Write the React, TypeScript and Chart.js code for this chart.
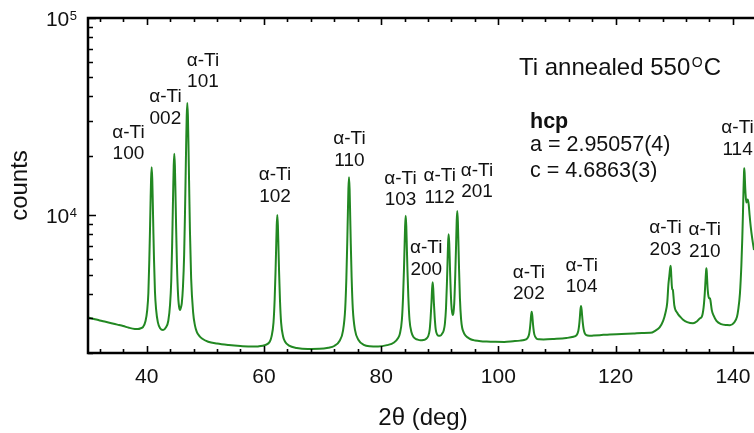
import { useEffect, useRef } from 'react';
import { Chart, registerables } from 'chart.js';

Chart.register(...registerables);

// Diffraction scan: 2θ (deg) and intensity (counts)
const twoTheta = [
  30, 31, 32, 33, 34, 35, 36, 37, 38, 38.5, 39.0, 39.4, 39.8, 40.1, 40.3, 40.46, 40.56, 40.66, 40.76, 40.86,
  40.96, 41.06, 41.16, 41.26, 41.42, 41.62, 41.92, 42.3, 42.8, 43.3, 43.7, 44.0, 44.2, 44.34, 44.42, 44.52,
  44.62, 44.72, 44.82, 44.92, 45.02, 45.17, 45.37, 45.6, 45.72, 45.85, 46.0, 46.2, 46.4, 46.54, 46.64, 46.74,
  46.84, 46.94, 47.04, 47.14, 47.24, 47.39, 47.59, 47.94, 48.24, 48.54, 48.94, 49.44, 50.5, 52, 54, 56, 58, 59,
  60.3, 61.0, 61.3, 61.64, 61.84, 61.99, 62.09, 62.19, 62.29, 62.39, 62.49, 62.59, 62.74, 62.94, 63.29, 63.59,
  64.3, 65.6, 67.5, 69.5, 71.0, 72.0, 72.9, 73.5, 73.87, 74.07, 74.22, 74.32, 74.42, 74.52, 74.62, 74.72, 74.82,
  74.97, 75.17, 75.54, 76.14, 77.04, 78.04, 79.5, 81.0, 82.2, 82.9, 83.19, 83.54, 83.74, 83.89, 83.99, 84.09,
  84.19, 84.29, 84.39, 84.49, 84.64, 84.84, 85.19, 85.49, 85.79, 86.2, 86.7, 87.2, 87.64, 88.04, 88.27, 88.44,
  88.59, 88.69, 88.79, 88.89, 88.99, 89.14, 89.31, 89.54, 89.8, 90.1, 90.37, 90.67, 90.87, 91.07, 91.22, 91.32,
  91.42, 91.52, 91.62, 91.72, 91.82, 91.97, 92.17, 92.32, 92.47, 92.64, 92.79, 92.89, 92.99, 93.09, 93.19,
  93.29, 93.44, 93.64, 93.84, 93.99, 94.29, 94.59, 94.99, 95.49, 95.99, 96.99, 97.99, 99.5, 101.0, 102.5,
  103.7, 104.4, 104.88, 105.23, 105.38, 105.48, 105.58, 105.68, 105.78, 105.88, 105.98, 106.13, 106.48,
  106.98, 107.7, 109.5, 111.6, 112.8, 113.29, 113.64, 113.79, 113.89, 113.99, 114.09, 114.19, 114.29, 114.39,
  114.54, 114.74, 115.0, 115.5, 116.2, 117.3, 119.0, 121.0, 123.0, 124.5, 125.9, 126.8, 127.5, 128.1, 128.5,
  128.8, 129.0, 129.15, 129.3, 129.39, 129.48, 129.58, 129.68, 129.76, 129.86, 130.0, 130.5, 131.0, 131.5,
  132.2, 133.2, 133.9, 134.4, 134.7, 135.0, 135.2, 135.35, 135.45, 135.5, 135.58, 135.7, 135.85, 135.97,
  136.1, 136.2, 136.4, 136.7, 137.2, 138.0, 139.0, 139.5, 140.2, 140.7, 140.9, 141.2, 141.45, 141.6, 141.72,
  141.82, 141.9, 141.94, 142.0, 142.1, 142.2, 142.3, 142.45, 142.55, 142.7, 142.85, 143.05, 143.3, 143.6,
];

const counts = [
  3030, 2978, 2925, 2878, 2830, 2785, 2740, 2685, 2648, 2645, 2670, 2715, 2895, 3303, 4043, 5950, 8050, 11300, 15300, 17500,
  15300, 11300, 8050, 5950, 4100, 3320, 2860, 2670, 2617, 2701, 2914, 3533, 4651, 6812, 8973, 12931,
  17793, 20500, 17826, 12983, 9036, 5658, 3910, 3349, 3308, 3405, 3582, 4337, 6300, 10096, 14942, 22564,
  31921, 37100, 31907, 22531, 14890, 8289, 4809, 3193, 2763, 2568, 2451, 2369, 2280, 2232, 2195, 2170, 2155, 2160,
  2200, 2280, 2420, 2850, 3750, 5200, 6800, 8850, 10020, 8850, 6800, 5200, 3750, 2850, 2420, 2290,
  2180, 2121, 2095, 2099, 2127, 2170, 2300, 2600, 3350, 4800, 7250, 10000, 13600, 15570, 13600, 10000, 7250,
  4800, 3350, 2620, 2330, 2200, 2165, 2160, 2192, 2260, 2380, 2500, 2950, 3850, 5250, 6800, 8800,
  9940, 8800, 6800, 5250, 3850, 2950, 2540, 2420, 2370, 2338, 2318, 2326, 2356, 2440, 2610, 3010,
  3619, 4232, 4566, 4236, 3626, 3024, 2634, 2485, 2445, 2450, 2497, 2598, 2806, 3390, 4487, 5698,
  7251, 8002, 7185, 5697, 4552, 3545, 3117, 3181, 3571, 4962, 7154, 9362, 10500, 9267, 7058,
  5340, 3784, 2961, 2670, 2584, 2473, 2418, 2374, 2334, 2316, 2297, 2288, 2280, 2276, 2294,
  2311, 2329, 2363, 2483, 2659, 2854, 3103, 3242, 3103, 2855, 2661, 2486, 2372,
  2348, 2344, 2357, 2383, 2418, 2456, 2594, 2795, 3017, 3302, 3464, 3330, 3080, 2860,
  2641, 2513, 2461, 2445, 2452, 2464, 2484, 2495, 2510, 2526, 2530, 2600, 2700, 2910, 3200,
  3600, 4450, 4900, 5400, 5545, 5000, 4400, 4200, 4180, 3900, 3500, 3200, 3055, 2950,
  2870, 2833, 2900, 3000, 3055, 3400, 4000, 4800, 5300, 5380, 4900, 4200, 3850, 3780,
  3790, 3650, 3300, 3100, 2910, 2800, 2770, 2765, 2850, 3050, 3300, 4000, 5600, 7600, 10300,
  13800, 16600, 17290, 16400, 13800, 12300, 11600, 11900, 12000, 11300, 10000, 8700, 7600, 6660,
];

// Axis ticks
const xTickValues = [32, 36, 40, 44, 48, 52, 56, 60, 64, 68, 72, 76, 80, 84, 88, 92, 96, 100, 104, 108, 112, 116, 120, 124, 128, 132, 136, 140];
const xLabelValues = [40, 60, 80, 100, 120, 140];
const yTickValues = [2000, 3000, 4000, 5000, 6000, 7000, 8000, 9000, 10000, 20000, 30000, 40000, 50000, 60000, 70000, 80000, 90000, 100000];
const yLabelValues = [10000, 100000];
const yLabelExponents = ['4', '5'];

// Reflection labels (hkl), anchored in data coordinates at the hkl line baseline
const reflectionNames = ['100', '002', '101', '102', '110', '103', '112', '201', '200', '202', '104', '203', '210', '114'];
const reflectionLabelTheta = [36.9, 43.2, 49.6, 61.9, 74.6, 83.3, 90.0, 96.35, 87.7, 105.2, 114.2, 128.5, 135.2, 140.8];
const reflectionLabelCounts = [19210, 29010, 44520, 11710, 17820, 11260, 11570, 12330, 4976, 3746, 4064, 6282, 6161, 20200];

const FONT = "'Liberation Sans', Arial, Helvetica, sans-serif";
const TEXT = '#111111';
const LINE_GREEN = 'rgb(34, 136, 34)';

const decorations = {
  id: 'decorations',
  afterDraw(chart: any) {
    const { ctx, chartArea } = chart;
    const { left, right, top, bottom } = chartArea;
    const xs = chart.scales.x;
    const ys = chart.scales.y;

    ctx.save();

    // frame
    ctx.strokeStyle = '#000';
    ctx.lineWidth = 2.5;
    ctx.lineJoin = 'miter';
    ctx.beginPath();
    ctx.moveTo(right + 4, top);
    ctx.lineTo(left, top);
    ctx.lineTo(left, bottom);
    ctx.lineTo(right + 4, bottom);
    ctx.stroke();

    // inward ticks
    ctx.lineWidth = 1.6;
    ctx.beginPath();
    for (const v of xTickValues) {
      const px = Math.round(xs.getPixelForValue(v)) + 0.5;
      const len = v % 20 === 0 ? 7 : 4;
      ctx.moveTo(px, bottom);
      ctx.lineTo(px, bottom - len);
      ctx.moveTo(px, top);
      ctx.lineTo(px, top + len);
    }
    for (const v of yTickValues) {
      const py = Math.round(ys.getPixelForValue(v)) + 0.5;
      const len = yLabelValues.includes(v) ? 8 : 5;
      ctx.moveTo(left, py);
      ctx.lineTo(left + len, py);
    }
    ctx.stroke();

    ctx.fillStyle = TEXT;
    ctx.textBaseline = 'alphabetic';

    // x tick labels
    ctx.font = `21px ${FONT}`;
    ctx.textAlign = 'center';
    for (const v of xLabelValues) {
      ctx.fillText(String(v), xs.getPixelForValue(v), bottom + 30);
    }

    // y tick labels (powers of ten)
    yLabelValues.forEach((v, i) => {
      const py = ys.getPixelForValue(v);
      const rightEdge = left - 11;
      ctx.textAlign = 'right';
      ctx.font = `13px ${FONT}`;
      const expW = ctx.measureText(yLabelExponents[i]).width;
      ctx.fillText(yLabelExponents[i], rightEdge, py + 2);
      ctx.font = `21px ${FONT}`;
      ctx.fillText('10', rightEdge - expW - 0.5, py + 8);
    });

    // axis titles
    ctx.font = `24px ${FONT}`;
    ctx.textAlign = 'center';
    ctx.fillText('2\u03B8 (deg)', (left + 760) / 2 - 1, bottom + 72);
    ctx.save();
    ctx.translate(27, (top + bottom) / 2);
    ctx.rotate(-Math.PI / 2);
    ctx.fillText('counts', 0, 0);
    ctx.restore();

    // reflection labels
    ctx.font = `19px ${FONT}`;
    ctx.textAlign = 'center';
    reflectionNames.forEach((name, i) => {
      const px = xs.getPixelForValue(reflectionLabelTheta[i]);
      const py = ys.getPixelForValue(reflectionLabelCounts[i]);
      ctx.fillText('\u03B1-Ti', px, py - 21.5);
      ctx.fillText(name, px, py);
    });

    // sample description
    ctx.textAlign = 'left';
    ctx.font = `24px ${FONT}`;
    const titleX = 519;
    const titleY = 74.5;
    const head = 'Ti annealed 550';
    ctx.fillText(head, titleX, titleY);
    let cx = titleX + ctx.measureText(head).width + 1.5;
    ctx.font = `14px ${FONT}`;
    ctx.fillText('O', cx, titleY - 7.5);
    cx += ctx.measureText('O').width + 1;
    ctx.font = `24px ${FONT}`;
    ctx.fillText('C', cx, titleY);

    ctx.font = `bold 21.5px ${FONT}`;
    ctx.fillText('hcp', 530, 128);
    ctx.font = `21.5px ${FONT}`;
    ctx.fillText('a = 2.95057(4)', 530, 151);
    ctx.fillText('c = 4.6863(3)', 530, 176.5);

    ctx.restore();
  },
};

export default function App() {
  const canvasRef = useRef<HTMLCanvasElement | null>(null);

  useEffect(() => {
    const canvas = canvasRef.current;
    if (!canvas) return;
    const points = twoTheta.map((x, i) => ({ x, y: counts[i] }));
    const chart = new Chart(canvas, {
      type: 'line',
      data: {
        datasets: [
          {
            data: points,
            borderColor: LINE_GREEN,
            borderWidth: 2,
            pointRadius: 0,
            fill: false,
            cubicInterpolationMode: 'monotone',
          },
        ],
      },
      options: {
        responsive: false,
        devicePixelRatio: 1,
        animation: false,
        layout: { padding: { left: 8, top: 18, right: 0, bottom: 0 } },
        plugins: { legend: { display: false }, tooltip: { enabled: false } },
        scales: {
          x: {
            type: 'linear',
            min: 30,
            max: 143.6,
            grid: { display: false },
            border: { display: false },
            ticks: { display: false },
            afterFit: (s: any) => {
              s.height = 80;
            },
          },
          y: {
            type: 'logarithmic',
            min: 2000,
            max: 100000,
            grid: { display: false },
            border: { display: false },
            ticks: { display: false },
            afterFit: (s: any) => {
              s.width = 80;
            },
          },
        },
      },
      plugins: [decorations],
    });
    return () => chart.destroy();
  }, []);

  return (
    <div style={{ position: 'fixed', left: 0, top: 0, width: 754, height: 433, background: '#fff', overflow: 'hidden' }}>
      <canvas ref={canvasRef} width={754} height={433} style={{ display: 'block' }} />
    </div>
  );
}
